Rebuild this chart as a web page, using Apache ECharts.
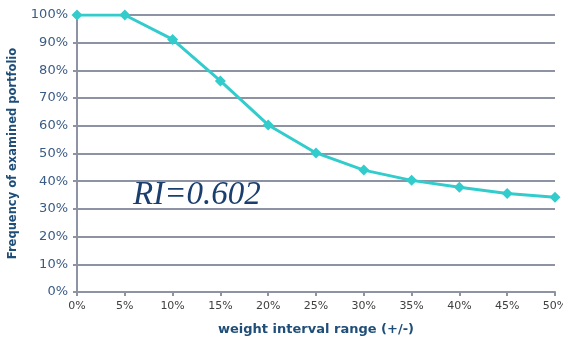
<!DOCTYPE html>
<html>
<head>
<meta charset="utf-8">
<script src="https://cdn.jsdelivr.net/npm/echarts@6/dist/echarts.min.js"></script>
<style>
  html, body { margin: 0; padding: 0; background: #fff; }
  #chart { width: 563px; height: 341px; }
</style>
</head>
<body>
<div id="chart"></div>
<script>
// weight interval range (%) and frequency of examined portfolio (%)
const ranges = [0, 5, 10, 15, 20, 25, 30, 35, 40, 45, 50];
const frequency = [100, 100, 91.2, 76.2, 60.3, 50.2, 44, 40.3, 37.8, 35.6, 34.2];
const riLabel = "RI=0.602";

var chart = echarts.init(document.getElementById("chart"));
var gridColor = "#8e93a3";

var option = {
  backgroundColor: "#ffffff",
  textStyle: { fontFamily: "DejaVu Sans, Verdana, sans-serif" },
  grid: { left: 77, right: 8, top: 15, bottom: 49, outerBoundsMode: "none", containLabel: false },
  xAxis: {
    type: "value",
    min: 0,
    max: 50,
    interval: 5,
    name: "weight interval range (+/-)",
    nameLocation: "middle",
    nameGap: 31,
    nameTextStyle: { color: "#1f4e79", fontSize: 13, fontWeight: "bold" },
    axisLabel: { formatter: "{value}%", color: "#404040", fontSize: 11, margin: 9 },
    axisLine: { show: true, lineStyle: { color: gridColor, width: 2 } },
    axisTick: { show: true, length: 4, lineStyle: { color: gridColor, width: 2 } },
    splitLine: { show: false },
  },
  yAxis: {
    type: "value",
    min: 0,
    max: 100,
    interval: 10,
    name: "Frequency of examined portfolio",
    nameLocation: "middle",
    nameGap: 58,
    nameTextStyle: { color: "#1f4e79", fontSize: 11.5, fontWeight: "bold" },
    axisLabel: { formatter: "{value}%", color: "#3a5b85", fontSize: 13, margin: 9 },
    axisLine: { show: true, lineStyle: { color: gridColor, width: 2 } },
    axisTick: { show: true, length: 4, lineStyle: { color: gridColor, width: 2 } },
    splitLine: { show: true, lineStyle: { color: gridColor, width: 2 } },
  },
  series: [
    {
      type: "line",
      data: ranges.map((r, i) => [r, frequency[i]]),
      symbol: "diamond",
      symbolSize: 11,
      lineStyle: { color: "#33cccc", width: 3 },
      itemStyle: { color: "#33cccc" },
      animation: false,
    },
  ],
  graphic: [
    {
      type: "text",
      left: 133,
      top: 179,
      style: {
        text: riLabel,
        font: "italic 33px 'Liberation Serif', 'DejaVu Serif', serif",
        fill: "#1a3e6e",
      },
    },
  ],
};
option && chart.setOption(option);
</script>
</body>
</html>
